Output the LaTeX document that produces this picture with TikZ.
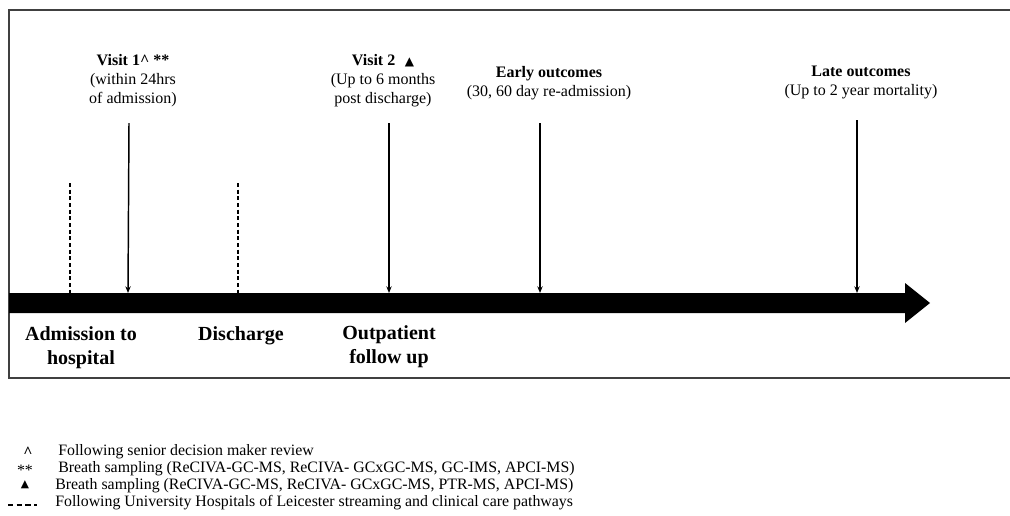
\documentclass[tikz,border=0pt]{standalone}
\usepackage{fontspec}
\setmainfont{Liberation Serif}
\newfontfamily\symfont{DejaVu Sans}
\usetikzlibrary{arrows.meta}
\begin{document}
\begin{tikzpicture}[x=0.75pt,y=-0.75pt,
  toplbl/.style={align=center,font=\fontsize{12}{14.2}\selectfont,inner sep=0pt,anchor=north},
  botlbl/.style={align=center,font=\fontsize{15}{18}\selectfont\bfseries,inner sep=0pt,anchor=north},
  legsym/.style={font=\fontsize{11.9}{13}\selectfont,inner sep=0pt,anchor=center},
  legtxt/.style={font=\fontsize{11.9}{13}\selectfont,inner sep=0pt,anchor=west},
  evarrow/.style={line width=1.1pt,-{Stealth[length=5pt,width=4pt]}},
  dashline/.style={line width=0.9pt,dash pattern=on 3pt off 2pt}]
\useasboundingbox (0,0) rectangle (1010,515);
% frame
\draw[line width=0.9pt,black!75] (1012,10) -- (9,10) -- (9,378) -- (1012,378);
% timeline arrow
\fill (9,293) -- (905,293) -- (905,283) -- (930,303) -- (905,323) -- (905,313) -- (9,313) -- cycle;
% points on the timeline
\coordinate (t1) at (128,293);
\coordinate (t2) at (389,293);
\coordinate (t3) at (540,293);
\coordinate (t4) at (857,293);
\coordinate (d1) at (70,293);
\coordinate (d2) at (238,293);
\coordinate (d1top) at (70,183);
\coordinate (d2top) at (238,183);
% top labels
\node[toplbl] (v1) at (133,54) {\textbf{Visit 1\^{} **}\\(within 24hrs\\of admission)};
\node[toplbl] (v2) at (383,54) {\textbf{Visit 2}\hspace{0.6em}{\symfont\fontsize{9}{10}\selectfont ▲}\\(Up to 6 months\\post discharge)};
\node[toplbl] (eo) at (549,66) {\textbf{Early outcomes}\\(30, 60 day re-admission)};
\node[toplbl] (lo) at (861,66) {\textbf{Late outcomes}\\(Up to 2 year mortality)};
\coordinate (a1) at (129,123);
\coordinate (a2) at (389,123);
\coordinate (a3) at (540,123);
\coordinate (a4) at (857,120);
\draw[evarrow] (a1) -- (t1);
\draw[evarrow] (a2) -- (t2);
\draw[evarrow] (a3) -- (t3);
\draw[evarrow] (a4) -- (t4);
\draw[dashline] (d1top) -- (d1);
\draw[dashline] (d2top) -- (d2);
% bottom labels
\node[botlbl] (adm) at (81,326) {Admission to\\hospital};
\node[botlbl] (dis) at (241,326) {Discharge};
\node[botlbl] (out) at (389,325) {Outpatient\\follow up};
% legend
\node[legsym] (s1) at (28,452) {\bfseries\^{}};
\node[legtxt] (l1) at (58,452) {Following senior decision maker review};
\node[legsym] (s2) at (25,470) {**};
\node[legtxt] (l2) at (58,469) {Breath sampling (ReCIVA-GC-MS, ReCIVA- GCxGC-MS, GC-IMS, APCI-MS)};
\node[legsym] (s3) at (25,485) {\symfont\fontsize{8}{10}\selectfont ▲};
\node[legtxt] (l3) at (55,486) {Breath sampling (ReCIVA-GC-MS, ReCIVA- GCxGC-MS, PTR-MS, APCI-MS)};
\draw[line width=1.2pt,dash pattern=on 4pt off 2.5pt] (8,505) -- (37,505);
\node[legtxt] (l4) at (55,503) {Following University Hospitals of Leicester streaming and clinical care pathways};
\end{tikzpicture}
\end{document}
